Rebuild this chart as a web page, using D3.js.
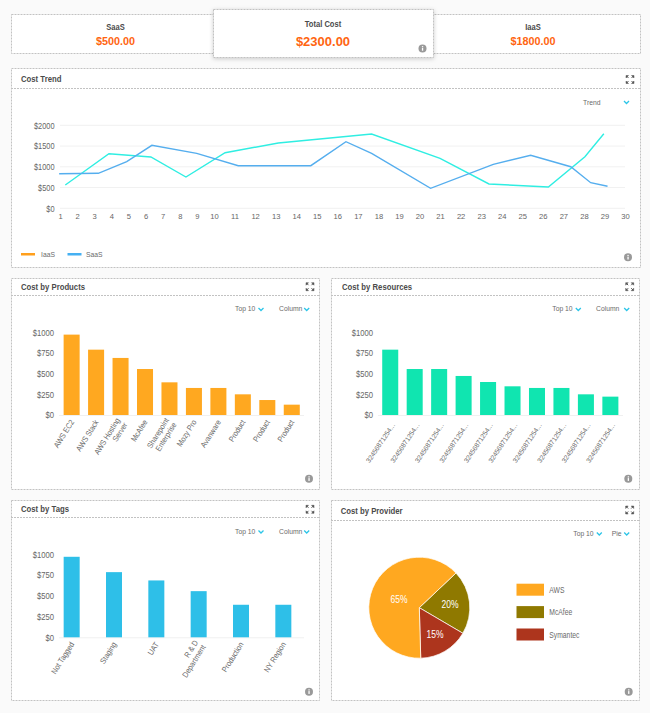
<!DOCTYPE html>
<html>
<head>
<meta charset="utf-8">
<script src="https://cdn.jsdelivr.net/npm/d3@7"></script>
<style>
html,body{margin:0;padding:0;background:#fafafa;}
svg{display:block;font-family:"Liberation Sans",Arial,sans-serif;}
.axis .domain,.axis line{display:none;}
.axis text{fill:#666;}
</style>
</head>
<body>
<svg id="c" width="650" height="713"></svg>
<script>
// ---------- data ----------
const kpiLabels = ["SaaS", "Total Cost", "IaaS"];
const kpiValues = ["$500.00", "$2300.00", "$1800.00"];

const trendDays = d3.range(1, 31);
const iaasDays = [1.31, 3.86, 6.31, 8.36, 10.54, 13.13, 17.67, 21, 23.38, 26.27, 28.05, 28.97];
const iaasCost = [562, 1316, 1236, 754, 1340, 1574, 1790, 1205, 586, 513, 1243, 1798];
const saasDays = [0.95, 3.24, 4.9, 6.37, 8.99, 11.18, 14.71, 16.42, 17.67, 20.54, 23.59, 25.41, 27.36, 28.33, 29.15];
const saasCost = [834, 843, 1123, 1518, 1325, 1027, 1027, 1605, 1325, 482, 1060, 1277, 1002, 617, 530];
const trendTicks = [0, 500, 1000, 1500, 2000];
const legendNames = ["IaaS", "SaaS"];

const barTicks = [0, 250, 500, 750, 1000];
const productNames = ["AWS EC2", "AWS Stack", "AWS Hosting\nServer", "McAfee", "Sharepoint\nEnterprise", "Mozy Pro", "Avanware", "Product", "Product", "Product"];
const productCost = [972, 790, 690, 556, 395, 327, 327, 250, 181, 125];
const resourceNames = d3.range(10).map(() => "32456871254...");
const resourceCost = [790, 556, 556, 472, 399, 347, 327, 327, 250, 222];
const tagNames = ["Not Tagged", "Staging", "UAT", "R & D\nDepartment", "Production", "NY Region"];
const tagCost = [970, 785, 685, 556, 392, 392];

const providerNames = ["McAfee", "Symantec", "AWS"];
const providerShare = [20.5, 16.1, 63.4];
const providerText = ["20%", "15%", "65%"];
const legendProviders = ["AWS", "McAfee", "Symantec"];

// ---------- helpers ----------
const svg = d3.select("#c");
const BORDER = "#c2c2c2", DASH = "2 1", TITLE = "#4a4a4a", MUTED = "#6a6a6a";
const C = {orange:"#ffa820", green:"#10e5b0", sky:"#2ebfe8", cyan:"#2feee2", blue:"#55aeee",
           legendOrange:"#ff9f1c", legendBlue:"#45b0f2", olive:"#8f7900", brick:"#ad351d", accent:"#2cc5e8", kpi:"#ff6510"};

function squeeze(sel, k) {
  sel.each(function () {
    this.setAttribute("lengthAdjust", "spacingAndGlyphs");
    this.setAttribute("textLength", this.getComputedTextLength() * k);
  });
  return sel;
}
function box(x0, y0, x1, y1, extra) {
  return svg.append("rect").attr("x", x0 + .5).attr("y", y0 + .5)
    .attr("width", x1 - x0).attr("height", y1 - y0)
    .attr("fill", "#fff").attr("stroke", BORDER).attr("stroke-dasharray", DASH).attr("style", extra || null);
}
function label(x, y, s, size, opts = {}) {
  const t = svg.append("text").attr("x", x).attr("y", y).attr("dy", "0.35em")
    .attr("font-size", size).attr("fill", opts.fill || MUTED)
    .attr("font-weight", opts.bold ? "bold" : null)
    .attr("text-anchor", opts.anchor || "start").text(s);
  return squeeze(t, opts.k || 0.89);
}
function info(x, y) {
  svg.append("circle").attr("cx", x).attr("cy", y).attr("r", 4).attr("fill", "#999");
  svg.append("rect").attr("x", x - .6).attr("y", y - .6).attr("width", 1.3).attr("height", 2.8).attr("fill", "#fff");
  svg.append("rect").attr("x", x - .6).attr("y", y - 2.4).attr("width", 1.3).attr("height", 1.2).attr("fill", "#fff");
}
function expand(x, y) {
  const g = svg.append("g").attr("transform", `translate(${x},${y})`);
  [[-1,-1],[1,-1],[-1,1],[1,1]].forEach(([a,b]) => {
    g.append("path").attr("d", `M${a*4},${b*1.5}L${a*4},${b*4}L${a*1.5},${b*4}Z`).attr("fill", "#555").attr("stroke", "#555").attr("stroke-width", .5);
    g.append("line").attr("x1", a*3.5).attr("y1", b*3.5).attr("x2", a*1.5).attr("y2", b*1.5).attr("stroke", "#555");
  });
}
function chevron(x, y) {
  svg.append("path").attr("d", `M${x-2.5},${y-1}L${x},${y+1.5}L${x+2.5},${y-1}`)
    .attr("fill", "none").attr("stroke", C.accent).attr("stroke-width", 1.3);
}
function panel(x0, y0, x1, y1, yHead, title, titleX) {
  box(x0, y0, x1, y1);
  svg.append("line").attr("x1", x0).attr("x2", x1).attr("y1", yHead + .5).attr("y2", yHead + .5)
    .attr("stroke", BORDER).attr("stroke-dasharray", DASH);
  label(titleX, (y0 + yHead) / 2 + .5, title, 8.7, {bold: true, fill: TITLE});
}

// ---------- KPI strip ----------
box(11, 14, 640, 53);
box(213, 9, 433, 57, "filter:drop-shadow(0 1px 2px rgba(0,0,0,.2))");
label(115.5, 27.5, kpiLabels[0], 8.5, {bold: true, anchor: "middle", fill: TITLE});
label(115.5, 41, kpiValues[0], 10.8, {bold: true, anchor: "middle", fill: C.kpi, k: 1});
label(323, 24.5, kpiLabels[1], 8.5, {bold: true, anchor: "middle", fill: TITLE});
label(323, 41.5, kpiValues[1], 13, {bold: true, anchor: "middle", fill: C.kpi, k: 1});
label(533, 27.5, kpiLabels[2], 8.5, {bold: true, anchor: "middle", fill: TITLE});
label(533, 41, kpiValues[2], 10.8, {bold: true, anchor: "middle", fill: C.kpi, k: 1});
info(422.5, 48.5);

// ---------- trend ----------
panel(11, 68, 640, 267, 88, "Cost Trend", 21);
expand(630, 79.5);
label(583, 102.3, "Trend", 7.6);
chevron(626.5, 102);
const tx = d3.scaleLinear().domain([1, 10, 30]).range([60, 214, 625]);
const ty = d3.scaleLinear().domain([0, 2000]).range([208.3, 125.3]);
svg.append("g").selectAll("line").data(trendTicks).join("line")
  .attr("x1", 60).attr("x2", 625).attr("y1", d => ty(d)).attr("y2", d => ty(d))
  .attr("stroke", "#f1f1f1");
const tyAxis = svg.append("g").attr("class", "axis").attr("transform", "translate(54.5,0)")
  .call(d3.axisLeft(ty).tickValues(trendTicks).tickFormat(d => "$" + d).tickSize(0).tickPadding(0))
  .attr("font-family", null).attr("font-size", 8.5);
squeeze(tyAxis.selectAll("text"), 0.87);
svg.append("g").attr("class", "axis").attr("transform", "translate(0,213)")
  .call(d3.axisBottom(tx).tickValues(trendDays).tickFormat(d3.format("d")).tickSize(0).tickPadding(1))
  .attr("font-family", null).attr("font-size", 7.6);
const line = d3.line().x(d => tx(d[0])).y(d => ty(d[1]));
[[d3.zip(iaasDays, iaasCost), C.cyan], [d3.zip(saasDays, saasCost), C.blue]].forEach(([pts, col]) => {
  svg.append("path").datum(pts).attr("d", line).attr("fill", "none").attr("stroke", col).attr("stroke-width", 1.4);
});
svg.append("rect").attr("x", 21).attr("y", 253).attr("width", 14).attr("height", 2.5).attr("fill", C.legendOrange);
label(41, 254.5, legendNames[0], 7.6);
svg.append("rect").attr("x", 67.5).attr("y", 253).attr("width", 14).attr("height", 2.5).attr("fill", C.legendBlue);
label(86, 254.5, legendNames[1], 7.6);
info(628, 257.3);

// ---------- bar panels ----------
function barChart(o) {
  const x = d3.scaleBand().domain(d3.range(o.names.length)).range(o.xr).paddingInner(o.pad).paddingOuter(o.pad / 2);
  const y = d3.scaleLinear().domain([0, 1000]).range(o.yr);
  svg.append("line").attr("x1", o.base[0]).attr("x2", o.base[1]).attr("y1", o.yr[0] + .5).attr("y2", o.yr[0] + .5).attr("stroke", "#f0f0f0");
  svg.append("g").selectAll("rect").data(o.values).join("rect")
    .attr("x", (d, i) => x(i)).attr("width", x.bandwidth())
    .attr("y", d => y(d)).attr("height", d => y(0) - y(d)).attr("fill", o.color);
  const ax = svg.append("g").attr("class", "axis").attr("transform", `translate(${o.axisX},0)`)
    .call(d3.axisLeft(y).tickValues(barTicks).tickFormat(d => "$" + d).tickSize(0).tickPadding(0))
    .attr("font-family", null).attr("font-size", 8.8);
  squeeze(ax.selectAll("text"), 0.87);
  const g = svg.append("g").attr("font-size", o.labelSize).attr("fill", MUTED);
  o.names.forEach((n, i) => {
    const t = g.append("text").attr("text-anchor", "end")
      .attr("transform", `translate(${x(i) + x.bandwidth() / 2 + o.labelShift},${o.yr[0] + o.labelGap}) rotate(${o.angle}) scale(${o.labelScale},1)`);
    const parts = n.split("\n");
    parts.forEach((p, k) => t.append("tspan").attr("x", 0)
      .attr("dy", k === 0 ? (parts.length > 1 ? "-0.1em" : "0.35em") : "1.1em").text(p));
  });
}
panel(11, 278, 319, 489, 295, "Cost by Products", 21);
expand(310, 286.7);
label(235, 308.7, "Top 10", 7.6); chevron(261, 309);
label(279, 308.7, "Column", 7.6); chevron(306.7, 309);
barChart({names: productNames, values: productCost, xr: [59.4, 304], yr: [415, 332.3], pad: .345, base: [59, 304],
  axisX: 54, color: C.orange, angle: -58, labelGap: 5.5, labelSize: 8, labelShift: 0.5, labelScale: 0.88});
info(309, 478.7);

panel(331, 278, 639, 489, 295, "Cost by Resources", 342);
expand(629.7, 286.7);
label(552.3, 308.7, "Top 10", 7.6); chevron(578.3, 309);
label(596, 308.7, "Column", 7.6); chevron(626.7, 309);
barChart({names: resourceNames, values: resourceCost, xr: [378, 622.6], yr: [415, 332.3], pad: .345, base: [378, 623],
  axisX: 373, color: C.green, angle: -56, labelGap: 9, labelSize: 6.8, labelShift: 3, labelScale: 0.97});
info(628.3, 478.7);

panel(11, 500, 319, 700, 517, "Cost by Tags", 21);
expand(310, 509.3);
label(235, 531.3, "Top 10", 7.6); chevron(261, 531.5);
label(279, 531.3, "Column", 7.6); chevron(306.7, 531.5);
barChart({names: tagNames, values: tagCost, xr: [50.5, 304.5], yr: [637.3, 554.3], pad: .622, base: [59, 304],
  axisX: 54, color: C.sky, angle: -58, labelGap: 5.5, labelSize: 8, labelShift: 0.5, labelScale: 0.88});
info(309, 691.7);

// ---------- pie ----------
panel(331, 500, 639, 700, 520, "Cost by Provider", 340.7);
expand(629.7, 510);
label(573.3, 533.3, "Top 10", 7.6); chevron(599.3, 533.5);
label(611.7, 533.3, "Pie", 7.6); chevron(626.7, 533.5);
const pieCols = [C.olive, C.brick, C.orange];
const labelRadius = [31, 31, 22];
const rad = d => d * Math.PI / 180;
const pie = d3.pie().sort(null).startAngle(rad(46.6)).endAngle(rad(406.6));
const arcs = pie(providerShare);
const arc = d3.arc().innerRadius(0).outerRadius(50.5);
const pg = svg.append("g").attr("transform", "translate(419.3,607.7)");
pg.selectAll("path").data(arcs).join("path").attr("d", arc)
  .attr("fill", (d, i) => pieCols[i]).attr("stroke", "#fff").attr("stroke-width", .7);
const pt = pg.selectAll("text").data(arcs).join("text")
  .attr("transform", (d, i) => {
    const a = (d.startAngle + d.endAngle) / 2;
    return `translate(${labelRadius[i] * Math.sin(a)},${-labelRadius[i] * Math.cos(a)})`;
  })
  .attr("text-anchor", "middle").attr("dy", "0.35em").attr("fill", "#fff")
  .attr("font-size", 11.5).text((d, i) => providerText[i]);
squeeze(pt, 0.74);
const legCols = [C.orange, C.olive, C.brick];
const legY = d3.scalePoint().domain(legendProviders).range([589.7, 634.5]);
legendProviders.forEach((n, i) => {
  svg.append("rect").attr("x", 516.5).attr("y", legY(n) - 6).attr("width", 27.5).attr("height", 12).attr("fill", legCols[i]);
  label(549.3, legY(n), n, 8.8, {k: 0.77});
});
info(628.7, 691.7);
</script>
</body>
</html>
